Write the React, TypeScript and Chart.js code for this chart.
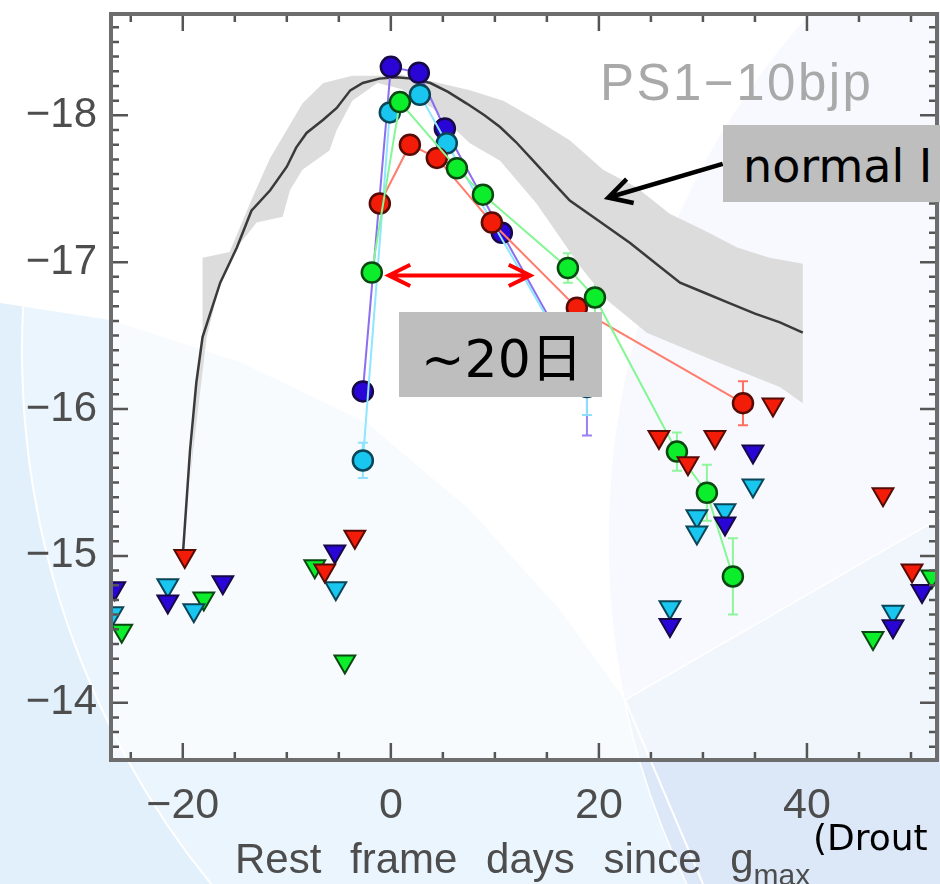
import React, { useEffect, useRef } from 'react';
import { Chart, registerables } from 'chart.js';

Chart.register(...registerables);

// ---------- axes ----------
const X_MIN = -26.9;
const X_MAX = 52.5;
const Y_BRIGHT = -18.69;
const Y_FAINT = -13.61;
const X_STEP = 20;
const X_MINOR_STEP = 5;
const Y_STEP = 1;

// ---------- normal SN Ia template ----------
const templateDays = [-20, -19.3, -18.7, -18.1, -16.4, -14.8, -13.4, -11.6, -10.0, -9.1, -8.1, -6.5, -5.2, -3.9, -2.7, -1.1, 0.5, 2.0, 3.8, 5.5, 7.3, 9.0, 10.5, 12.0, 13.7, 15.5, 17.2, 19.8, 23.0, 25.5, 27.8, 30.2, 32.6, 35.0, 37.4, 39.6];
const templateMags = [-15.0, -15.72, -16.18, -16.49, -16.86, -17.10, -17.35, -17.49, -17.65, -17.78, -17.88, -17.97, -18.05, -18.17, -18.22, -18.25, -18.26, -18.25, -18.22, -18.16, -18.08, -18.0, -17.92, -17.82, -17.69, -17.55, -17.42, -17.29, -17.13, -16.99, -16.86, -16.79, -16.72, -16.65, -16.59, -16.52];

const bandUpperDays = [-20.0, -19.3, -18.7, -18.1, -18.1, -15.5, -13.3, -11.6, -10.0, -8.5, -6.5, -3.7, -1.1, 0.8, 4.0, 7.6, 10.8, 14.0, 17.2, 20.4, 23.6, 26.8, 30.0, 33.3, 36.4, 39.6];
const bandUpperMags = [-15.0, -15.5, -16.18, -16.52, -17.03, -17.07, -17.44, -17.71, -17.90, -18.08, -18.22, -18.27, -18.27, -18.28, -18.23, -18.17, -18.10, -17.97, -17.83, -17.63, -17.51, -17.33, -17.22, -17.10, -17.03, -16.99];
const bandLowerDays = [39.6, 37.4, 31.0, 24.6, 20.8, 18.2, 14.0, 10.5, 7.6, 4.0, 1.0, -1.3, -3.7, -5.2, -5.9, -8.5, -9.7, -10.4, -12.9, -14.8, -16.4, -17.7, -19.0];
const bandLowerMags = [-16.04, -16.15, -16.33, -16.52, -16.74, -16.97, -17.40, -17.69, -17.81, -18.05, -18.18, -18.22, -18.10, -17.90, -17.76, -17.63, -17.49, -17.31, -17.27, -17.10, -16.86, -16.49, -15.72];

// ---------- PS1-10bjp detections ----------
const blueDays = [-2.69, 0.0, 2.69, 5.19, 10.67, 18.85];
const blueMags = [-16.12, -18.33, -18.29, -17.91, -17.20, -16.16];
const blueErrs = [0, 0, 0, 0, 0, 0.34];
const cyanDays = [-2.69, -0.1, 2.79, 5.38, 18.85];
const cyanMags = [-15.65, -18.02, -18.14, -17.81, -16.15];
const cyanErrs = [0.12, 0, 0, 0, 0.19];
const greenDays = [-1.83, 0.87, 6.35, 8.85, 17.02, 19.62, 27.5, 30.38, 32.88];
const greenMags = [-16.93, -18.09, -17.64, -17.46, -16.96, -16.76, -15.71, -15.43, -14.86];
const greenErrs = [0, 0, 0, 0, 0.1, 0.17, 0.13, 0.19, 0.26];
const redDays = [-1.06, 1.83, 4.42, 9.71, 17.88, 33.85];
const redMags = [-17.40, -17.80, -17.71, -17.27, -16.69, -16.04];
const redErrs = [0, 0, 0, 0, 0, 0.15];

// ---------- upper limits ----------
const blueLimDays = [-26.54, -21.44, -16.15, -5.38, 26.83, 32.12, 34.81, 48.27, 51.06];
const blueLimMags = [-14.78, -14.69, -14.82, -15.03, -14.53, -15.22, -15.71, -14.52, -14.76];
const cyanLimDays = [-26.73, -21.44, -18.94, -5.29, 26.83, 29.42, 29.42, 32.12, 34.81, 48.27];
const cyanLimMags = [-14.61, -14.80, -14.63, -14.78, -14.65, -15.27, -15.16, -15.31, -15.48, -14.62];
const greenLimDays = [-25.87, -17.98, -7.31, -4.42, 46.35, 52.0];
const greenLimMags = [-14.49, -14.71, -14.93, -14.28, -14.44, -14.86];
const redLimDays = [-19.81, -6.35, -3.46, 25.77, 28.56, 31.15, 36.73, 47.31, 50.1];
const redLimMags = [-15.0, -14.90, -15.13, -15.81, -15.63, -15.81, -16.03, -15.42, -14.90];

// ---------- annotations (data units) ----------
const spanArrowDays = [-0.3, 13.5];
const spanArrowMag = -16.91;
const normalArrowFrom = [31.9, -17.67];
const normalArrowTo = [20.9, -17.44];

const COLORS = {
  blue: { fill: '#2a06d6', edge: '#170848', line: '#8c6ef0', err: '#9a80f2' },
  cyan: { fill: '#18c6ef', edge: '#0a4658', line: '#8ee6ff', err: '#8ee0ff' },
  green: { fill: '#0ced2c', edge: '#0b4811', line: '#84f794', err: '#8ef59c' },
  red: { fill: '#f21c08', edge: '#560b05', line: '#ff7d6e', err: '#ff7060' },
};

const pts = (d: number[], m: number[]) => d.map((x, i) => ({ x, y: m[i] }));

const SERIES = [
  { key: 'blue', days: blueDays, mags: blueMags, errs: blueErrs },
  { key: 'cyan', days: cyanDays, mags: cyanMags, errs: cyanErrs },
  { key: 'red', days: redDays, mags: redMags, errs: redErrs },
  { key: 'green', days: greenDays, mags: greenMags, errs: greenErrs },
];

const fmt = (v: number) => (v < 0 ? '\u2212' + Math.abs(v) : String(v));

const errorBarPlugin = {
  id: 'errorBars',
  beforeDatasetsDraw(chart: any) {
    const { ctx, chartArea: a, scales } = chart;
    const xs = scales.x, ys = scales.y;
    ctx.save();
    ctx.beginPath();
    ctx.rect(a.left, a.top, a.right - a.left, a.bottom - a.top);
    ctx.clip();
    ctx.lineWidth = 2;
    for (const s of SERIES) {
      ctx.strokeStyle = (COLORS as any)[s.key].err;
      ctx.beginPath();
      s.errs.forEach((e, i) => {
        if (!e) return;
        const px = xs.getPixelForValue(s.days[i]);
        const y1 = ys.getPixelForValue(s.mags[i] - e);
        const y2 = ys.getPixelForValue(s.mags[i] + e);
        ctx.moveTo(px, y1); ctx.lineTo(px, y2);
        ctx.moveTo(px - 5, y1); ctx.lineTo(px + 5, y1);
        ctx.moveTo(px - 5, y2); ctx.lineTo(px + 5, y2);
      });
      ctx.stroke();
    }
    ctx.restore();
  },
};

function head(ctx: CanvasRenderingContext2D, tx: number, ty: number, ang: number, len: number, spread: number) {
  ctx.moveTo(tx + len * Math.cos(ang - spread), ty + len * Math.sin(ang - spread));
  ctx.lineTo(tx, ty);
  ctx.lineTo(tx + len * Math.cos(ang + spread), ty + len * Math.sin(ang + spread));
}

const framePlugin = {
  id: 'frame',
  afterDraw(chart: any) {
    const { ctx, chartArea: a, scales } = chart;
    const xs = scales.x, ys = scales.y;
    ctx.save();
    // annotation arrows
    ctx.lineCap = 'butt';
    ctx.lineJoin = 'miter';
    ctx.strokeStyle = '#ff0000';
    ctx.lineWidth = 4;
    const rx1 = xs.getPixelForValue(spanArrowDays[0]);
    const rx2 = xs.getPixelForValue(spanArrowDays[1]);
    const ry = ys.getPixelForValue(spanArrowMag);
    ctx.beginPath();
    ctx.moveTo(rx1 + 2, ry); ctx.lineTo(rx2 - 2, ry);
    head(ctx, rx1 + 1, ry, 0, 24, 0.46);
    head(ctx, rx2 - 1, ry, Math.PI, 24, 0.46);
    ctx.stroke();

    ctx.strokeStyle = '#000000';
    ctx.lineWidth = 4.5;
    const bx1 = xs.getPixelForValue(normalArrowFrom[0]);
    const by1 = ys.getPixelForValue(normalArrowFrom[1]);
    const bx2 = xs.getPixelForValue(normalArrowTo[0]);
    const by2 = ys.getPixelForValue(normalArrowTo[1]);
    const ang = Math.atan2(by1 - by2, bx1 - bx2);
    ctx.beginPath();
    ctx.moveTo(bx1, by1); ctx.lineTo(bx2 + 2 * Math.cos(ang), by2 + 2 * Math.sin(ang));
    head(ctx, bx2, by2, ang, 26, 0.5);
    ctx.stroke();

    // ticks
    ctx.strokeStyle = '#555555';
    ctx.lineWidth = 2.5;
    ctx.beginPath();
    for (let i = Math.ceil(X_MIN / X_MINOR_STEP); i * X_MINOR_STEP <= X_MAX; i++) {
      const v = i * X_MINOR_STEP;
      const px = xs.getPixelForValue(v);
      const len = v % X_STEP === 0 ? 17 : 8;
      ctx.moveTo(px, a.bottom); ctx.lineTo(px, a.bottom - len);
      ctx.moveTo(px, a.top); ctx.lineTo(px, a.top + len);
    }
    for (let k = Math.ceil(Y_BRIGHT * 10); k <= Math.floor(Y_FAINT * 10); k++) {
      const py = ys.getPixelForValue(k / 10);
      const len = k % 10 === 0 ? 17 : 8;
      ctx.moveTo(a.left, py); ctx.lineTo(a.left + len, py);
      ctx.moveTo(a.right, py); ctx.lineTo(a.right - len, py);
    }
    ctx.stroke();
    // frame
    ctx.strokeStyle = '#6d6d6d';
    ctx.lineWidth = 4;
    ctx.strokeRect(a.left, a.top, a.right - a.left, a.bottom - a.top);
    ctx.restore();
  },
};

function detection(key: string, days: number[], mags: number[], order: number) {
  const c = (COLORS as any)[key];
  return {
    data: pts(days, mags),
    showLine: true,
    borderColor: c.line,
    borderWidth: 2,
    pointStyle: 'circle',
    pointRadius: 10,
    pointBorderWidth: 2.5,
    pointBackgroundColor: c.fill,
    pointBorderColor: c.edge,
    order,
  };
}

function limits(key: string, days: number[], mags: number[], order: number) {
  const c = (COLORS as any)[key];
  return {
    data: pts(days, mags),
    showLine: false,
    pointStyle: 'triangle',
    rotation: 180,
    pointRadius: 12,
    pointBorderWidth: 2,
    pointBackgroundColor: c.fill,
    pointBorderColor: c.edge,
    order,
  };
}

export default function App() {
  const ref = useRef<HTMLCanvasElement>(null);

  useEffect(() => {
    const bandPoly = [...pts(bandUpperDays, bandUpperMags), ...pts(bandLowerDays, bandLowerMags)];
    const tickFont = { family: "'Liberation Sans', Arial, sans-serif", size: 42 };
    const chart = new Chart(ref.current as HTMLCanvasElement, {
      type: 'line',
      data: {
        datasets: [
          limits('red', redLimDays, redLimMags, 1),
          limits('blue', blueLimDays, blueLimMags, 2),
          limits('cyan', cyanLimDays, cyanLimMags, 3),
          limits('green', greenLimDays, greenLimMags, 4),
          detection('green', greenDays, greenMags, 5),
          detection('red', redDays, redMags, 6),
          detection('cyan', cyanDays, cyanMags, 7),
          detection('blue', blueDays, blueMags, 8),
          {
            data: pts(templateDays, templateMags),
            borderColor: '#3a3a3a',
            borderWidth: 2.5,
            pointRadius: 0,
            order: 9,
          },
          {
            data: bandPoly,
            borderColor: 'rgba(0,0,0,0)',
            borderWidth: 1,
            backgroundColor: '#dcdcdc',
            fill: 'shape',
            pointRadius: 0,
            order: 10,
          },
        ] as any,
      },
      options: {
        animation: false,
        responsive: false,
        devicePixelRatio: 1,
        events: [],
        layout: { autoPadding: false, padding: { top: 14, right: 3, left: 0, bottom: 0 } },
        plugins: { legend: { display: false }, tooltip: { enabled: false }, title: { display: false } },
        scales: {
          x: {
            type: 'linear',
            min: X_MIN,
            max: X_MAX,
            grid: { display: false, drawTicks: false },
            border: { display: false },
            ticks: {
              stepSize: X_STEP,
              includeBounds: false,
              autoSkip: false,
              maxRotation: 0,
              padding: 20,
              color: '#4d4d4d',
              font: { ...tickFont, size: 43 },
              callback: (v: any) => fmt(Number(v)),
            },
            afterFit: (s: any) => { s.height = 124; s.paddingLeft = 0; s.paddingRight = 0; },
          },
          y: {
            type: 'linear',
            reverse: true,
            min: Y_BRIGHT,
            max: Y_FAINT,
            grid: { display: false, drawTicks: false },
            border: { display: false },
            ticks: {
              stepSize: Y_STEP,
              includeBounds: false,
              autoSkip: false,
              padding: 14,
              color: '#4d4d4d',
              font: tickFont,
              callback: (v: any) => fmt(Number(v)),
            },
            afterFit: (s: any) => { s.width = 111; s.paddingTop = 0; s.paddingBottom = 0; },
          },
        },
      } as any,
      plugins: [errorBarPlugin, framePlugin],
    });
    return () => chart.destroy();
  }, []);

  const sans = "'DejaVu Sans', Verdana, 'Noto Sans CJK JP', sans-serif";
  const helv = "'Liberation Sans', Arial, sans-serif";

  return (
    <div style={{ position: 'fixed', left: 0, top: 0, width: 940, height: 884, overflow: 'hidden', background: '#fff' }}>
      <svg width={940} height={884} style={{ position: 'absolute', left: 0, top: 0 }}>
        <defs>
          <clipPath id="clipB">
            <path d="M0,303 L110,320 L240,362 L367,423 L470,510 L560,610 L625,700 L703,884 L0,884 Z" />
          </clipPath>
          <clipPath id="clipC">
            <circle cx={1398} cy={540} r={790} />
          </clipPath>
        </defs>
        <rect x={0} y={0} width={940} height={884} fill="#ffffff" />
        <path d="M0,303 L110,320 L240,362 L367,423 L470,510 L560,610 L625,700 L703,884 L0,884 Z" fill="#ebf5fd" />
        <path
          d="M0 0H940V884H0Z M22 350 A848 848 0 1 0 1718 350 A848 848 0 1 0 22 350 Z"
          fill="#e2f0fc"
          fillRule="evenodd"
          clipPath="url(#clipB)"
        />
        <circle cx={870} cy={350} r={848} fill="none" stroke="#ffffff" strokeWidth={2} clipPath="url(#clipB)" />
        <circle cx={1398} cy={540} r={790} fill="#eeeffc" />
        <path d="M560,737 L940,518 L940,884 L560,884 Z" fill="#dce7f8" clipPath="url(#clipC)" />
        <circle cx={1398} cy={540} r={790} fill="none" stroke="#ffffff" strokeWidth={1.5} />
        <line x1={625} y1={700} x2={940} y2={518} stroke="#ffffff" strokeWidth={1.5} />
        <line x1={625} y1={700} x2={703} y2={884} stroke="#ffffff" strokeWidth={2} />
        <rect x={0} y={0} width={940} height={12} fill="#ffffff" />
        <rect x={111} y={14} width={826} height={746} fill="#ffffff" opacity={0.6} />
      </svg>
      <canvas ref={ref} width={940} height={884} style={{ position: 'absolute', left: 0, top: 0 }} />

      <div style={{ position: 'absolute', left: 600, top: 57, font: `51px ${helv}`, lineHeight: '51px', letterSpacing: '2.5px', color: '#a9a9a9', whiteSpace: 'nowrap' }}>
        PS1−10bjp
      </div>

      <div style={{ position: 'absolute', left: 723, top: 125, width: 240, height: 77, background: '#bebebe' }}>
        <div style={{ position: 'absolute', left: 20, top: 18, font: `46px ${sans}`, lineHeight: '46px', color: '#000', whiteSpace: 'nowrap' }}>
          normal I
        </div>
      </div>

      <div style={{ position: 'absolute', left: 399, top: 312, width: 203, height: 85, background: '#bebebe' }}>
        <div style={{ position: 'absolute', left: 22, top: 21, font: `52px ${sans}`, lineHeight: '52px', color: '#000', whiteSpace: 'nowrap' }}>
          ~20日
        </div>
      </div>

      <div style={{ position: 'absolute', left: 813, top: 820, font: `36px ${sans}`, lineHeight: '36px', color: '#000', whiteSpace: 'nowrap' }}>
        (Drout
      </div>

      <div style={{ position: 'absolute', left: 235, top: 838, font: `42px ${helv}`, lineHeight: '42px', wordSpacing: '17px', color: '#4d4d4d', whiteSpace: 'nowrap' }}>
        Rest frame days since g
        <span style={{ fontSize: 30, position: 'relative', top: 12, wordSpacing: 0 }}>max</span>
      </div>
    </div>
  );
}
